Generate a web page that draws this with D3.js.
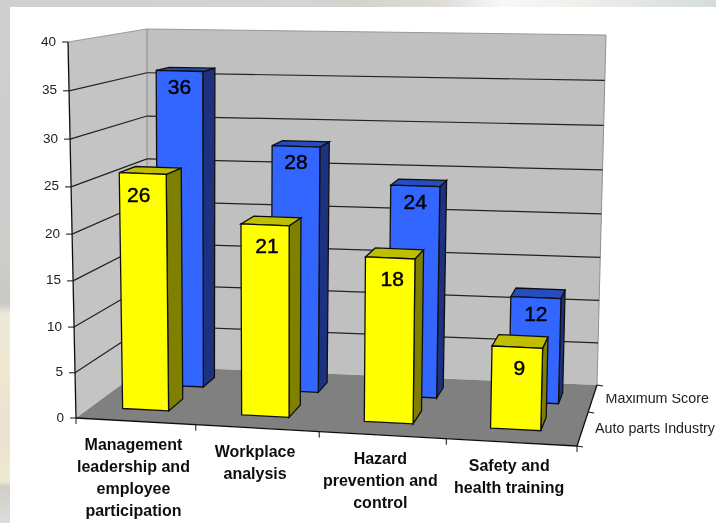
<!DOCTYPE html>
<html lang="en">
<head>
  <meta charset="UTF-8">
  <title>Auto parts industry scores</title>
  <style>
    body { margin: 0; overflow: hidden; background: #fff; }
    svg { display: block; }
    text { font-family: "Liberation Sans", Arial, sans-serif; fill: #111; }
    .cat { font-weight: bold; font-size: 16px; text-anchor: middle; dominant-baseline: central; }
    .val { font-size: 21px; text-anchor: middle; dominant-baseline: central; fill: #000; stroke: #000; stroke-width: 0.45; }
    .tick { font-size: 13.5px; text-anchor: end; dominant-baseline: central; fill: #222; }
    .series { font-size: 14.3px; fill: #222; dominant-baseline: central; }
  </style>
  <script src="https://d3js.org/d3.v7.min.js"></script>
</head>
<body>
  <svg width="716" height="523"></svg>
  <script>
    const categories = [
      ["Management", "leadership and", "employee", "participation"],
      ["Workplace", "analysis"],
      ["Hazard", "prevention and", "control"],
      ["Safety and", "health training"]
    ];
    const seriesNames = ["Auto parts Industry", "Maximum Score"];
    const autoParts = [26, 21, 18, 9];
    const maximumScore = [36, 28, 24, 12];
    const yTicks = [0, 5, 10, 15, 20, 25, 30, 35, 40];

    // box corners on screen: [front/back][bottom/top][left/right]
    const box = {
      fbl: [76, 418], fbr: [577, 446], bbl: [147, 366], bbr: [597, 385],
      ftl: [68, 42], ftr: [587, 58], btl: [147, 29], btr: [606, 35]
    };

    const svg = d3.select("svg");
    const mix = (a, b, t) => [a[0] + (b[0] - a[0]) * t, a[1] + (b[1] - a[1]) * t];
    const warp = (t, k) => t - k * t * (1 - t);

    const uScale = d3.scaleLinear().domain([0, 4]).range([0, 1]);
    const vScale = d3.scaleLinear().domain([0, 40]).range([0, 1]);
    const wScale = d3.scaleLinear().domain([0, 0.5, 1]).range([0, 0.557, 1]);

    // i = category position, value = height, d = depth 0..1
    function project(i, value, d) {
      const u = warp(uScale(i), 0.058), v = warp(vScale(value), 0.044), w = wScale(d);
      const bottom = mix(mix(box.fbl, box.fbr, u), mix(box.bbl, box.bbr, u), w);
      const top = mix(mix(box.ftl, box.ftr, u), mix(box.btl, box.btr, u), w);
      return mix(bottom, top, v);
    }

    const catBand = d3.scaleBand().domain(d3.range(4)).range([0, 4.03]).paddingInner(0.61).paddingOuter(0.305).align(0.44);
    const depthBand = d3.scaleBand().domain([0, 1]).range([0.02, 1]).paddingInner(0.536).paddingOuter(0.4);

    // page behind the white panel
    const defs = svg.append("defs");
    const grad = defs.append("linearGradient").attr("id", "strip").attr("x1", 0).attr("x2", 0).attr("y1", 0).attr("y2", 1);
    [[0, "#cfcfcf"], [0.5, "#cbcdc9"], [0.58, "#c8c8c4"], [0.6, "#ebe8dc"], [0.7, "#f0e9cf"], [0.82, "#eae2d2"], [0.92, "#eeeacf"], [0.93, "#cfcfc4"], [1, "#dcdcdc"]]
      .forEach(s => grad.append("stop").attr("offset", s[0]).attr("stop-color", s[1]));
    const topGrad = defs.append("linearGradient").attr("id", "topstrip");
    [[0, "#cfcfcf"], [0.42, "#d4d4d4"], [0.5, "#d2d4cc"], [0.62, "#e0dcd8"], [0.7, "#f6f8fc"], [0.8, "#f2f0ec"], [0.88, "#e4e8e6"], [1, "#d6dcd8"]]
      .forEach(s => topGrad.append("stop").attr("offset", s[0]).attr("stop-color", s[1]));
    defs.append("filter").attr("id", "soft").append("feGaussianBlur").attr("stdDeviation", 0.35);
    defs.append("clipPath").attr("id", "cutTop").append("rect").attr("x", 590).attr("y", 394).attr("width", 126).attr("height", 60);

    svg.append("rect").attr("width", 716).attr("height", 523).attr("fill", "#fff");
    svg.append("rect").attr("width", 10).attr("height", 523).attr("fill", "url(#strip)");
    svg.append("rect").attr("width", 716).attr("height", 7).attr("fill", "url(#topstrip)");

    const chart = svg.append("g").attr("filter", "url(#soft)");

    const poly = (pts, fill, stroke, sw) => chart.append("polygon")
      .attr("points", pts.map(p => p.join(",")).join(" "))
      .attr("fill", fill).attr("stroke", stroke || "none").attr("stroke-width", sw || 1);
    const line = (a, b, stroke, sw) => chart.append("line")
      .attr("x1", a[0]).attr("y1", a[1]).attr("x2", b[0]).attr("y2", b[1])
      .attr("stroke", stroke).attr("stroke-width", sw || 1);

    // walls and floor
    poly([box.fbl, box.bbl, box.btl, box.ftl], "#c4c4c4");
    poly([box.bbl, box.bbr, box.btr, box.btl], "#c0c0c0");
    poly([box.fbl, box.fbr, box.bbr, box.bbl], "#808080");

    line(box.btl, box.bbl, "#8c8c8c", 1);
    line(box.btr, box.bbr, "#909090", 1);
    line(box.ftl, box.btl, "#999", 1);
    line(box.btl, box.btr, "#999", 1);

    yTicks.slice(1, -1).forEach(t => {
      line(project(0, t, 0), project(0, t, 1), "#222", 1.2);
      line(project(0, t, 1), project(4, t, 1), "#222", 1.2);
    });

    // axes
    line(box.ftl, box.fbl, "#111", 1.3);
    line(box.fbl, box.fbr, "#111", 1.3);
    line(box.fbr, box.bbr, "#111", 1.3);
    yTicks.forEach(t => {
      const p = project(0, t, 0);
      line([p[0] - 6, p[1]], p, "#111");
      chart.append("text").attr("class", "tick").attr("x", p[0] - 12).attr("y", p[1] - 1).text(t);
    });
    d3.range(5).forEach(i => {
      const p = project(i, 0, 0);
      line(p, [p[0], p[1] + 6], "#111");
    });
    [0, 0.5, 1].forEach(d => {
      const p = project(4, 0, d);
      line(p, [p[0] + 6, p[1] + 1], "#111");
    });

    // series labels on the depth axis, the back one is cut by the pasted panel
    seriesNames.forEach((name, k) => {
      const p = project(4, 0, k === 0 ? 0.27 : 0.75);
      chart.append("text").attr("class", "series").attr("clip-path", "url(#cutTop)")
        .attr("x", p[0] + (k === 0 ? 12 : 13)).attr("y", p[1] + (k === 0 ? 0.5 : -1)).text(name);
    });

    // category labels
    categories.forEach((lines, i) => {
      const p = project(i + 0.5, 0, 0);
      lines.forEach((txt, j) => {
        chart.append("text").attr("class", "cat").attr("x", p[0] - 2).attr("y", p[1] + 23 + j * 22).text(txt);
      });
    });

    // bars, back row first
    const rows = [
      {depth: 1, values: maximumScore, front: "#3366ff", side: "#1a3380", top: "#264dbf", shift: 0.04, widen: 0.015, labelDy: 15.5, labelDx: () => 0},
      {depth: 0, values: autoParts, front: "#ffff00", side: "#808000", top: "#bfbf00", shift: 0, widen: 0, labelDy: 20.5, labelDx: i => i === 0 ? -4 : 2}
    ];
    rows.forEach(row => {
      const d0 = depthBand(row.depth), d1 = d0 + depthBand.bandwidth();
      row.values.forEach((value, i) => {
        const x0 = catBand(i) + row.shift, x1 = x0 + catBand.bandwidth() + row.widen;
        poly([project(x1, 0, d0), project(x1, 0, d1), project(x1, value, d1), project(x1, value, d0)], row.side, "#111", 1.3);
        poly([project(x0, value, d0), project(x1, value, d0), project(x1, value, d1), project(x0, value, d1)], row.top, "#111", 1.3);
        poly([project(x0, 0, d0), project(x1, 0, d0), project(x1, value, d0), project(x0, value, d0)], row.front, "#111", 1.3);
        const c = project((x0 + x1) / 2, value, d0);
        chart.append("text").attr("class", "val").attr("x", c[0] + row.labelDx(i)).attr("y", c[1] + row.labelDy).text(value);
      });
    });
  </script>
</body>
</html>
